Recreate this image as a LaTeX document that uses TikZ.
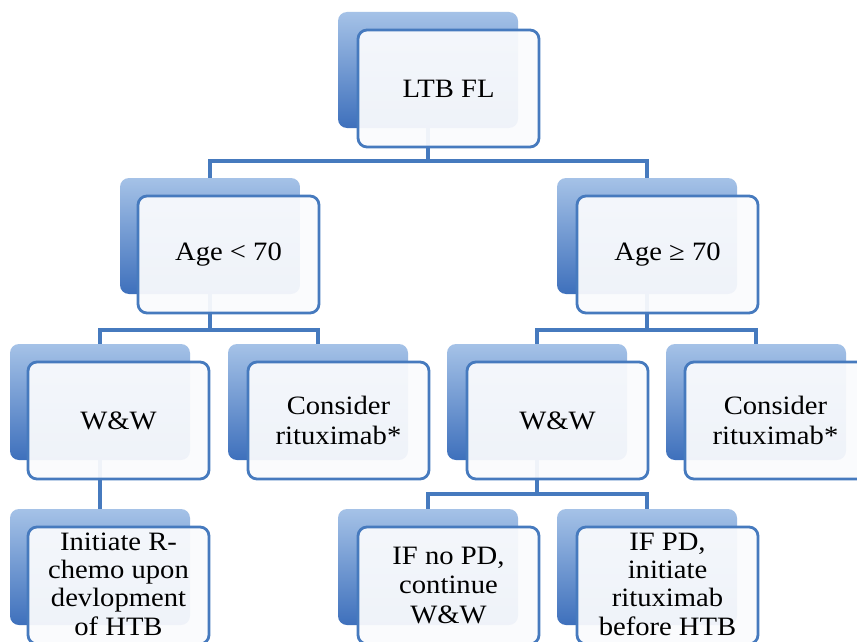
\documentclass[tikz,border=0pt]{standalone}
\usepackage{fontspec}
\newfontfamily\boxfont{Liberation Serif}[FakeStretch=1.08]
\definecolor{bord}{RGB}{70,122,190}
\definecolor{bktop}{RGB}{165,194,231}
\definecolor{bkbot}{RGB}{62,112,188}
\definecolor{frfill}{RGB}{250,251,253}
\tikzset{
  backbox/.style={rectangle, rounded corners=9pt, minimum width=180pt, minimum height=116pt,
    anchor=north west, top color=bktop, bottom color=bkbot, inner sep=0pt, outer sep=0pt},
  frontbox/.style={rectangle, rounded corners=9pt, minimum width=181pt, minimum height=117pt,
    anchor=north west, draw=bord, line width=2.8pt, fill=frfill, fill opacity=0.94, text opacity=1,
    align=center, inner sep=0pt, outer sep=0pt, text=black,
    font=\boxfont\fontsize{26.5}{29.5}\selectfont},
  raised/.style={text depth=3pt, font=\boxfont\fontsize{26.5}{28.3}\selectfont},
  conn/.style={draw=bord, line width=3.1pt}
}
\begin{document}
\begin{tikzpicture}[x=1pt,y=-1pt]
\useasboundingbox (0,0) rectangle (857,642);
\fill[white] (0,0) rectangle (857,642);
\clip (0,0) rectangle (857,642);
% back boxes
\node[backbox] (topB)  at (338,12) {};
\node[backbox] (ageLB) at (120,178) {};
\node[backbox] (ageGB) at (557,178) {};
\node[backbox] (wwLB)  at (10,344) {};
\node[backbox] (conLB) at (228,344) {};
\node[backbox] (wwRB)  at (447,344) {};
\node[backbox] (conRB) at (666,344) {};
\node[backbox] (initB) at (10,509) {};
\node[backbox] (nopdB) at (338,509) {};
\node[backbox] (pdB)   at (557,509) {};
% connectors
\coordinate (j1) at (428,161);
\coordinate (j2) at (210,330);
\coordinate (j3) at (647,330);
\coordinate (j4) at (537,494);
\draw[conn] (topB.south) -- (j1) -| (ageLB.north);
\draw[conn] (j1) -| (ageGB.north);
\draw[conn] (ageLB.south) -- (j2) -| (wwLB.north);
\draw[conn] (j2) -| (conLB.north);
\draw[conn] (ageGB.south) -- (j3) -| (wwRB.north);
\draw[conn] (j3) -| (conRB.north);
\draw[conn] (wwLB.south) -- (initB.north);
\draw[conn] (wwRB.south) -- (j4) -| (nopdB.north);
\draw[conn] (j4) -| (pdB.north);
% front boxes
\node[frontbox] (top)  at (358,30) {LTB FL};
\node[frontbox] (ageL) at (138,196) {Age < 70};
\node[frontbox] (ageG) at (577,196) {Age ≥ 70};
\node[frontbox] (wwL)  at (28,362) {W\&W};
\node[frontbox] (conL) at (248,362) {Consider\\rituximab*};
\node[frontbox] (wwR)  at (467,362) {W\&W};
\node[frontbox] (conR) at (685,362) {Consider\\rituximab*};
\node[frontbox,raised] (init) at (28,527) {Initiate R-\\chemo upon\\devlopment\\of HTB};
\node[frontbox] (nopd) at (358,527) {IF no PD,\\continue\\W\&W};
\node[frontbox,raised] (pd)   at (577,527) {IF PD,\\initiate\\rituximab\\before HTB};
\end{tikzpicture}
\end{document}
